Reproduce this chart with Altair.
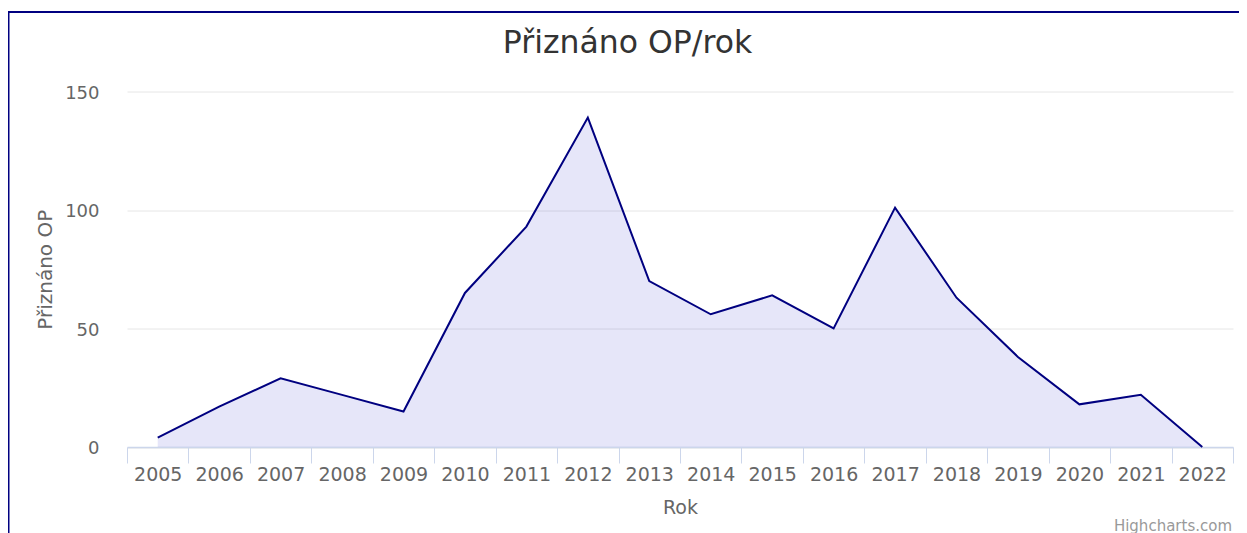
import altair as alt
import pandas as pd

years = list(range(2005, 2023))
values = [4, 17, 29, 22, 15, 65, 93, 139, 70, 56, 64, 50, 101, 63, 38, 18, 22, 0]
y_ticks = [0, 50, 100, 150]
x_bounds = [y - 0.5 for y in years] + [years[-1] + 0.5]
title_text = "Přiznáno OP/rok"
credit_text = "Highcharts.com"

df = pd.DataFrame({"Rok": years, "Přiznáno OP": values})

W = 1106
H = 355.5
FONT = "DejaVu Sans"
half_band = W / (2 * len(years))

x_enc = alt.X(
    "Rok:Q",
    scale=alt.Scale(domain=[years[0] - 0.5, years[-1] + 0.5], nice=False, zero=False),
    axis=alt.Axis(
        title="Rok",
        values=x_bounds,
        labelExpr="datum.value < 2022.4 ? format(datum.value + 0.5, 'd') : ''",
        labelOffset=half_band,
        labelBaseline="alphabetic",
        labelPadding=17.7,
        labelFontSize=19,
        labelColor="#666666",
        labelFont=FONT,
        labelOverlap=False,
        labelFlush=False,
        labelBound=False,
        tickSize=16,
        tickColor="#ccd6eb",
        tickWidth=1,
        domainColor="#ccd6eb",
        domainWidth=1.5,
        grid=False,
        titleFont=FONT,
        titleFontSize=19,
        titleFontWeight="normal",
        titleColor="#666666",
        titleBaseline="alphabetic",
        titleY=66.3,
    ),
)

y_enc = alt.Y(
    "Přiznáno OP:Q",
    scale=alt.Scale(domain=[0, 150], nice=False),
    axis=alt.Axis(
        title="Přiznáno OP",
        values=y_ticks,
        ticks=False,
        domain=False,
        labelPadding=28,
        labelFontSize=18,
        labelColor="#666666",
        labelFont=FONT,
        labelOffset=1.5,
        gridColor="#e6e6e6",
        gridWidth=1,
        titleFont=FONT,
        titleFontSize=20,
        titleFontWeight="normal",
        titleColor="#666666",
        titleAngle=270,
        titleAlign="center",
        titleBaseline="alphabetic",
        titleX=-75.3,
        titleY=H / 2,
    ),
)

base = alt.Chart(df)
area = base.mark_area(color="#0000be", fillOpacity=0.097).encode(x=x_enc, y=y_enc)
line = base.mark_line(color="#000080", strokeWidth=2).encode(x="Rok:Q", y="Přiznáno OP:Q")

one = alt.Data(values=[{"k": 1}])
frame = alt.Chart(one).mark_rect(filled=False, stroke="#000080", strokeWidth=2).encode(
    x=alt.value(-118.5), x2=alt.value(W + 40), y=alt.value(-79.5), y2=alt.value(H + 200)
)
title = alt.Chart(one).mark_text(
    text=title_text, align="center", baseline="alphabetic",
    font=FONT, fontSize=31.5, color="#333333"
).encode(x=alt.value(500.5), y=alt.value(-38.8))
credits = alt.Chart(one).mark_text(
    text=credit_text, align="right", baseline="alphabetic",
    font=FONT, fontSize=15, color="#999999"
).encode(x=alt.value(W - 1), y=alt.value(439))

chart = alt.layer(area, line, frame, title, credits).properties(
    width=W,
    height=H,
    padding={"left": 119, "top": 83.5, "right": 6, "bottom": 86},
    autosize=alt.AutoSizeParams(type="none"),
).configure_view(stroke=None)

chart.save("out.html", embed_options={"renderer": "svg", "actions": False})
